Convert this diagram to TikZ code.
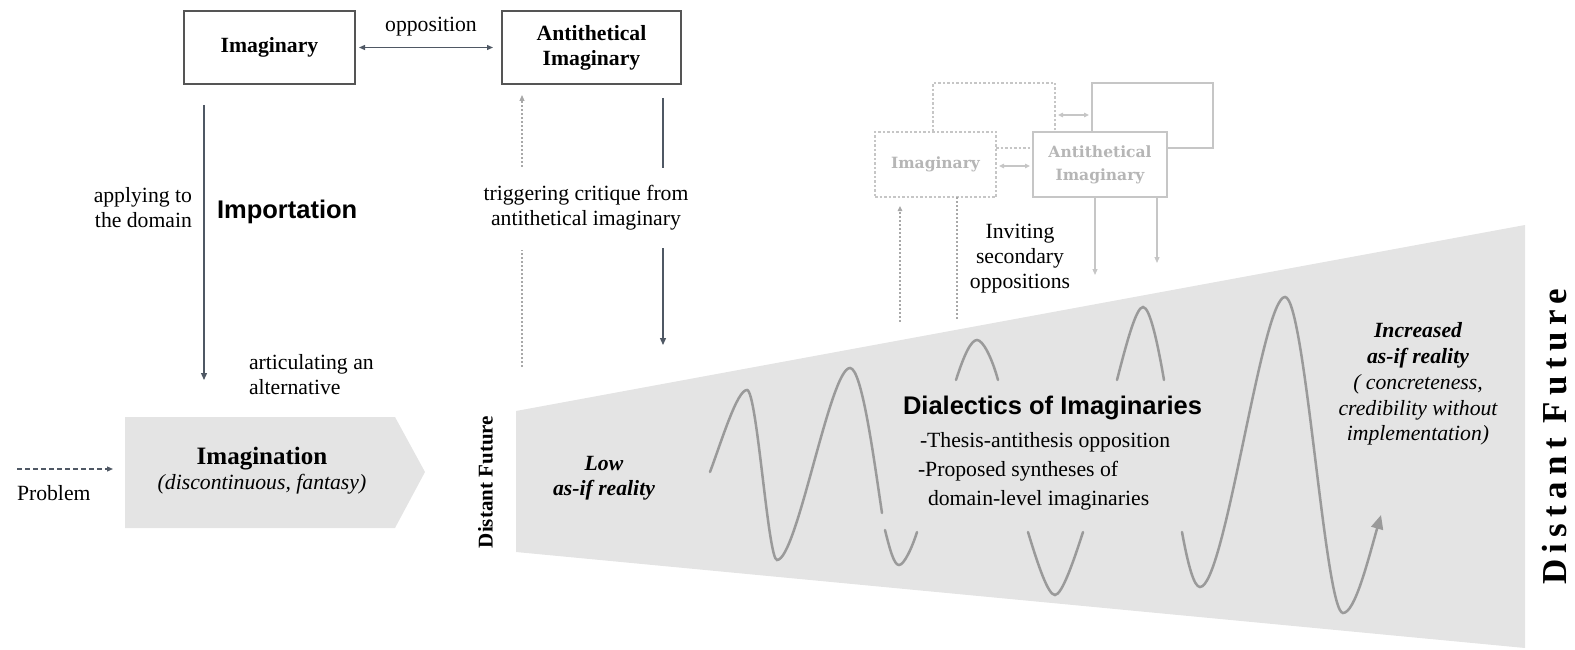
\documentclass[tikz,border=0pt]{standalone}
\usepackage{fontspec}
\setmainfont{Liberation Serif}
\newfontfamily\headsans{Liberation Sans}
\newfontfamily\ghostserif{DejaVu Serif}
\newfontfamily\spacedserif[LetterSpace=18]{Liberation Serif}
\usetikzlibrary{arrows.meta}

\definecolor{inkline}{HTML}{4F5864}
\definecolor{boxline}{HTML}{555555}
\definecolor{panel}{HTML}{E4E4E4}
\definecolor{wavegray}{HTML}{9A9A9A}
\definecolor{ghostline}{HTML}{C6C6C6}
\definecolor{ghosttext}{HTML}{B6B6B6}
\definecolor{dotgray}{HTML}{A8A8A8}

\newcommand{\bodysize}{\fontsize{21.7}{25}\selectfont}

\begin{document}
\begin{tikzpicture}[x=1pt,y=-1pt,
  every node/.style={inner sep=0pt, outer sep=0pt},
  body/.style={font=\bodysize},
  mainbox/.style={draw=boxline, line width=1.3pt, fill=white,
    minimum height=73pt, font=\bodysize\bfseries, align=center},
  ghostbox/.style={draw=ghostline, line width=1.2pt, fill=white,
    minimum height=65pt, text=ghosttext, align=center,
    font=\ghostserif\fontsize{15.5}{23}\selectfont\bfseries},
  ghostdash/.style={dash pattern=on 2.5pt off 2pt},
  link/.style={draw=inkline, line width=1.3pt},
  tip/.style={-{Triangle[length=7pt,width=6pt]}},
  twotips/.style={{Triangle[length=6pt,width=5pt]}-{Triangle[length=6pt,width=5pt]}},
  dotlink/.style={draw=dotgray, line width=1.1pt, dash pattern=on 2pt off 2pt},
  ghostlink/.style={draw=ghostline, line width=1.2pt},
  ghosttip/.style={-{Triangle[length=6pt,width=5pt]}},
  ghosttwo/.style={{Triangle[length=5pt,width=4.5pt]}-{Triangle[length=5pt,width=4.5pt]}},
  wave/.style={draw=wavegray, line width=2.5pt, line cap=round},
  sanshead/.style={font=\headsans\bfseries\fontsize{25.5}{30}\selectfont}]

\useasboundingbox (0,0) rectangle (1575,650);

% ---------- grey panels ----------
\fill[panel] (125,417) -- (395,417) -- (425,472) -- (395,528) -- (125,528) -- cycle;
\fill[panel] (516,411) -- (1525,225) -- (1525,648) -- (516,552) -- cycle;

% ---------- top boxes ----------
\node[mainbox, minimum width=171pt] (imag) at (269.5,47.5) {Imaginary};
\node[mainbox, minimum width=179pt] (anti) at (591.5,47.5) {Antithetical\\Imaginary};
\node[body, anchor=south] (opp) at (431,36) {opposition};
\draw[link, twotips, shorten <=4pt, shorten >=9pt] (imag.east) -- (anti.west);

% importation branch
\coordinate (imtop) at (204,105);
\coordinate (imend) at (204,380);
\draw[link, tip] (imtop) -- (imend);
\node[body, align=right, anchor=east] (apply) at (192,207.5) {applying to\\the domain};
\node[sanshead, anchor=west] (importation) at (217,212) {Importation};
\node[body, align=left, anchor=west] (artic) at (249,374.5) {articulating an\\alternative};

% critique branch
\node[body, align=center] (trig) at (586,207.5) {triggering critique from\\antithetical imaginary};
\coordinate (dotlow) at (522,367);
\coordinate (dotmid) at (522,250);
\coordinate (dothigh) at (522,167);
\draw[dotlink] (dotlow) -- (dotmid);
\draw[dotlink, -{Triangle[length=6pt,width=5pt]}, shorten >=11pt] (dothigh) -- (dothigh |- anti.south);
\coordinate (crtop) at (663,98);
\coordinate (crbreak) at (663,168);
\coordinate (crres) at (663,248);
\coordinate (crend) at (663,345);
\draw[link] (crtop) -- (crbreak);
\draw[link, tip] (crres) -- (crend);

% ---------- imagination ----------
\node[font=\fontsize{25}{30}\selectfont\bfseries] (imagination) at (262,459) {Imagination};
\node[body, font=\bodysize\itshape] (imagsub) at (262,484) {(discontinuous, fantasy)};
\coordinate (probstart) at (17,469);
\coordinate (probend) at (113,469);
\draw[link, line width=1.2pt, dash pattern=on 5pt off 3pt, -{Triangle[length=6pt,width=5pt]}] (probstart) -- (probend);
\node[body, anchor=west] (problem) at (17,493) {Problem};

% ---------- side labels ----------
\node[rotate=90, font=\fontsize{21}{25}\selectfont\bfseries] (dfleft) at (485.5,482) {Distant Future};
\node[rotate=90, font=\spacedserif\bfseries\fontsize{35}{40}\selectfont] (dfright) at (1555,437) {Distant Future};

% ---------- waves ----------
\draw[wave] (710,472) .. controls (722,440) and (737,390) .. (747,390)
  .. controls (757,390) and (768,560) .. (777,560)
  .. controls (797,560) and (830,368) .. (850,368)
  .. controls (862,368) and (874,460) .. (882,513);
\draw[wave] (885,530) .. controls (890,550) and (894,565) .. (899,565)
  .. controls (904,565) and (912,548) .. (917,532);
\draw[wave] (956,380) .. controls (964,355) and (971,340) .. (977,340)
  .. controls (983,340) and (992,358) .. (998,380);
\draw[wave] (1028,532) .. controls (1038,565) and (1048,595) .. (1055,595)
  .. controls (1062,595) and (1074,560) .. (1083,532);
\draw[wave] (1117,380) .. controls (1126,345) and (1136,307) .. (1143,307)
  .. controls (1150,307) and (1158,345) .. (1164,380);
\draw[wave, -{Triangle[length=14pt,width=12pt]}] (1182,532) .. controls (1188,565) and (1194,587) .. (1200,587)
  .. controls (1225,587) and (1262,297) .. (1285,297)
  .. controls (1305,297) and (1325,613) .. (1343,613)
  .. controls (1355,613) and (1368,560) .. (1381,515);

% ---------- panel texts ----------
\node[body, font=\bodysize\bfseries\itshape, align=center] (low) at (604,478.5) {Low\\as-if reality};
\node[sanshead, anchor=west] (dialectics) at (903,408) {Dialectics of Imaginaries};
\node[body, anchor=west] (thesis) at (920,442) {-Thesis-antithesis opposition};
\node[body, anchor=west] (synth) at (918,471) {-Proposed syntheses of};
\node[body, anchor=west] (domain) at (928,500) {domain-level imaginaries};
\node[body, align=center, font=\fontsize{21.7}{25.8}\selectfont\itshape] (incr) at (1418,384)
  {\textbf{Increased}\\\textbf{as-if reality}\\( concreteness,\\credibility without\\implementation)};

% ---------- secondary oppositions ----------
\node[ghostbox, ghostdash, minimum width=122pt] (backd) at (994,115.5) {};
\node[ghostbox, minimum width=121pt] (backs) at (1152.5,115.5) {};
\draw[ghostlink, ghosttwo, shorten <=3pt, shorten >=3pt] (backd.east |- 0,115) -- (backs.west |- 0,115);
\node[ghostbox, ghostdash, minimum width=121pt] (frontd) at (935.5,164.5) {Imaginary};
\node[ghostbox, minimum width=134pt] (fronts) at (1100,164.5) {Antithetical\\Imaginary};
\draw[ghostlink, ghosttwo, shorten <=3pt, shorten >=3pt] (frontd.east |- 0,166) -- (fronts.west |- 0,166);

\coordinate (gupstart) at (900,322);
\draw[dotlink, -{Triangle[length=5pt,width=4.5pt]}, shorten >=9pt] (gupstart) -- (gupstart |- frontd.south);
\coordinate (gdownend) at (957,320);
\draw[dotlink] (gdownend |- frontd.south) -- (gdownend);
\coordinate (gleftend) at (1095,275);
\coordinate (grightend) at (1157,263);
\draw[ghostlink, ghosttip] (gleftend |- fronts.south) -- (gleftend);
\draw[ghostlink, ghosttip] (grightend |- fronts.south) -- (grightend);
\node[body, align=center] (invite) at (1020,258.5) {Inviting\\secondary\\oppositions};

\end{tikzpicture}
\end{document}
